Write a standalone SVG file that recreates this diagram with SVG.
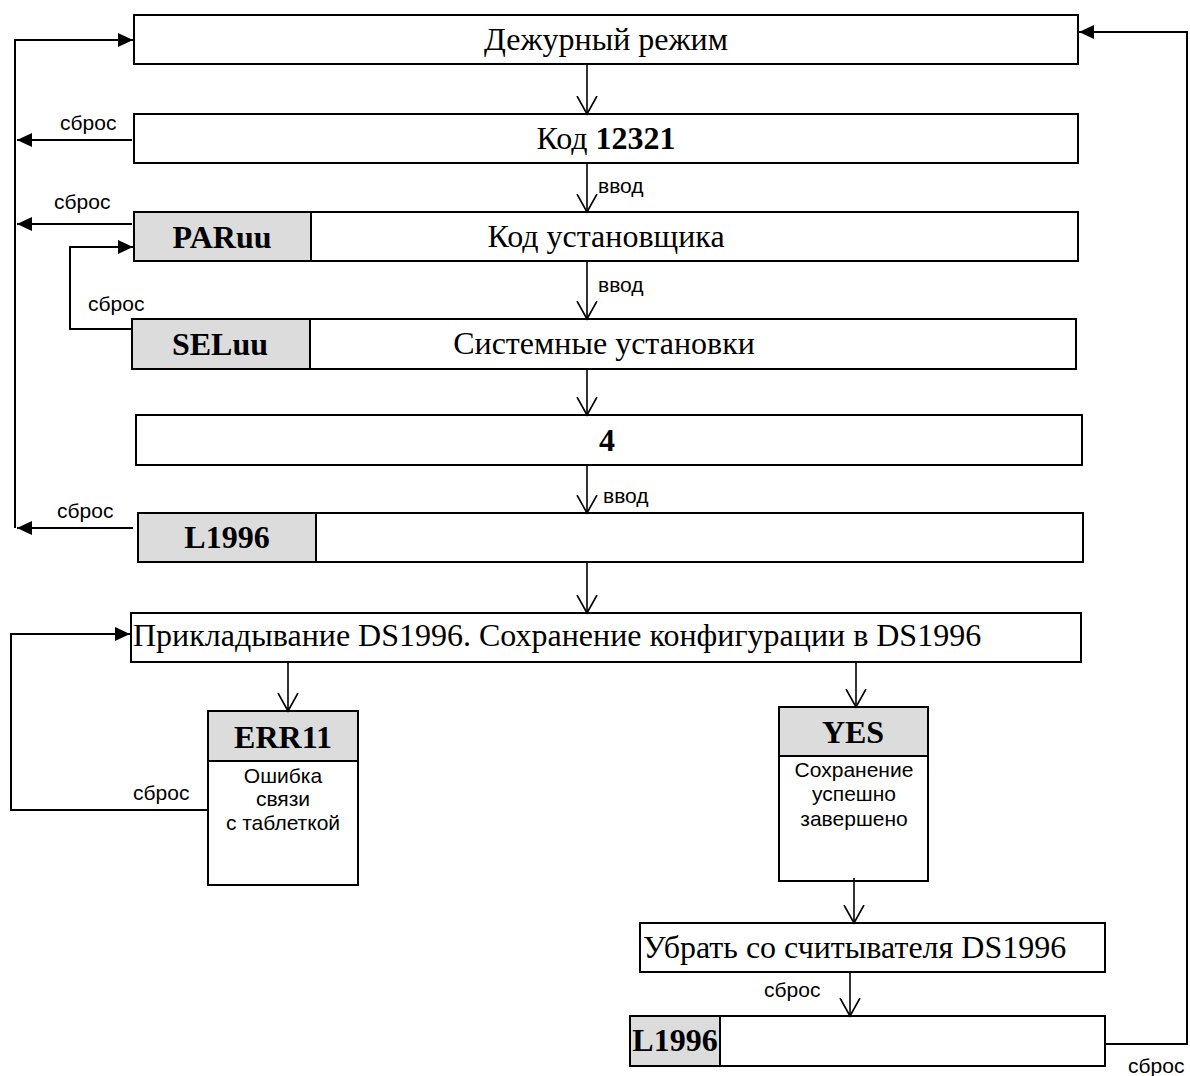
<svg xmlns="http://www.w3.org/2000/svg" width="1190" height="1076" viewBox="0 0 1190 1076">
<defs>
<style>
.box{fill:#fff;stroke:#000;stroke-width:2}
.gray{fill:#dcdcdc;stroke:#000;stroke-width:2}
.t{font-family:"Liberation Serif","Times New Roman",serif;font-size:32px;fill:#000}
.b{font-weight:bold}
.s{font-family:"Liberation Sans",Arial,sans-serif;font-size:21px;fill:#000}
.ln{fill:none;stroke:#000;stroke-width:2}
.v{fill:none;stroke:#000;stroke-width:1.6}
</style>
<marker id="fa" viewBox="0 0 15 14" refX="15" refY="7" markerWidth="15" markerHeight="14" markerUnits="userSpaceOnUse" orient="auto">
<path d="M0,0 L15,7 L0,14 Z" fill="#000"/>
</marker>
<marker id="va" viewBox="0 0 20 22" refX="18" refY="11" markerWidth="20" markerHeight="22" markerUnits="userSpaceOnUse" orient="auto">
<path d="M0,1 L18,11 L0,21" fill="none" stroke="#000" stroke-width="1.6"/>
</marker>
</defs>
<rect width="1190" height="1076" fill="#fff"/>

<g id="n1">
<rect class="box" x="134" y="15" width="944" height="49"/>
<text class="t" x="606" y="50" text-anchor="middle">Дежурный режим</text>
</g>
<g id="n2">
<rect class="box" x="134" y="114" width="944" height="49"/>
<text class="t" x="606" y="149" text-anchor="middle">Код <tspan class="b">12321</tspan></text>
</g>
<g id="n3">
<rect class="box" x="134" y="212" width="944" height="49"/>
<rect class="gray" x="134" y="212" width="177" height="49"/>
<text class="t b" x="222" y="248" text-anchor="middle">PARuu</text>
<text class="t" x="606" y="247" text-anchor="middle">Код установщика</text>
</g>
<g id="n4">
<rect class="box" x="132" y="319" width="944" height="50"/>
<rect class="gray" x="132" y="319" width="178" height="50"/>
<text class="t b" x="220" y="355" text-anchor="middle">SELuu</text>
<text class="t" x="604" y="354" text-anchor="middle">Системные установки</text>
</g>
<g id="n5">
<rect class="box" x="136" y="415" width="946" height="50"/>
<text class="t b" x="607" y="451" text-anchor="middle">4</text>
</g>
<g id="n6">
<rect class="box" x="138" y="513" width="945" height="49"/>
<rect class="gray" x="138" y="513" width="178" height="49"/>
<text class="t b" x="227" y="548" text-anchor="middle">L1996</text>
</g>
<g id="n7">
<rect class="box" x="131" y="613" width="950" height="49"/>
<text class="t" x="133" y="646">Прикладывание DS1996. Сохранение конфигурации в DS1996</text>
</g>
<g id="n8">
<rect class="box" x="208" y="711" width="150" height="174"/>
<rect class="gray" x="208" y="711" width="150" height="50"/>
<text class="t b" x="283" y="748" text-anchor="middle">ERR11</text>
<text class="s" x="283" y="783" text-anchor="middle">Ошибка</text>
<text class="s" x="283" y="806" text-anchor="middle">связи</text>
<text class="s" x="283" y="830" text-anchor="middle">с таблеткой</text>
</g>
<g id="n9">
<rect class="box" x="779" y="707" width="149" height="174"/>
<rect class="gray" x="779" y="707" width="149" height="49"/>
<text class="t b" x="853" y="743" text-anchor="middle">YES</text>
<text class="s" x="854" y="777" text-anchor="middle">Сохранение</text>
<text class="s" x="854" y="801" text-anchor="middle">успешно</text>
<text class="s" x="854" y="826" text-anchor="middle">завершено</text>
</g>
<g id="n10">
<rect class="box" x="640" y="923" width="465" height="49"/>
<text class="t" x="643" y="958">Убрать со считывателя DS1996</text>
</g>
<g id="n11">
<rect class="box" x="630" y="1016" width="475" height="50"/>
<rect class="gray" x="630" y="1016" width="90" height="50"/>
<text class="t b" x="675" y="1051" text-anchor="middle">L1996</text>
</g>

<g id="connectors">
<line class="v" x1="587" y1="64" x2="587" y2="114" marker-end="url(#va)"/>
<line class="v" x1="587" y1="163" x2="587" y2="212" marker-end="url(#va)"/>
<line class="v" x1="587" y1="261" x2="587" y2="319" marker-end="url(#va)"/>
<line class="v" x1="587" y1="369" x2="587" y2="415" marker-end="url(#va)"/>
<line class="v" x1="587" y1="465" x2="587" y2="513" marker-end="url(#va)"/>
<line class="v" x1="587" y1="562" x2="587" y2="613" marker-end="url(#va)"/>
<line class="v" x1="288" y1="662" x2="288" y2="711" marker-end="url(#va)"/>
<line class="v" x1="856" y1="662" x2="856" y2="707" marker-end="url(#va)"/>
<line class="v" x1="854" y1="878" x2="854" y2="923" marker-end="url(#va)"/>
<line class="v" x1="850" y1="972" x2="850" y2="1016" marker-end="url(#va)"/>

<polyline class="ln" points="15,528 15,40 133,40" marker-end="url(#fa)"/>
<line class="ln" x1="132" y1="140" x2="17" y2="140" marker-end="url(#fa)"/>
<line class="ln" x1="132" y1="224" x2="17" y2="224" marker-end="url(#fa)"/>
<line class="ln" x1="133" y1="528" x2="17" y2="528" marker-end="url(#fa)"/>
<polyline class="ln" points="132,329 70,329 70,247 133,247" marker-end="url(#fa)"/>
<polyline class="ln" points="208,810 11,810 11,634 130,634" marker-end="url(#fa)"/>
<polyline class="ln" points="1105,1044 1187,1044 1187,32 1079,32" marker-end="url(#fa)"/>

<text class="s" x="60" y="130">сброс</text>
<text class="s" x="54" y="209">сброс</text>
<text class="s" x="88" y="311">сброс</text>
<text class="s" x="57" y="518">сброс</text>
<text class="s" x="133" y="800">сброс</text>
<text class="s" x="764" y="997">сброс</text>
<text class="s" x="1128" y="1073">сброс</text>
<text class="s" x="598" y="193">ввод</text>
<text class="s" x="598" y="292">ввод</text>
<text class="s" x="603" y="503">ввод</text>
</g>
</svg>
